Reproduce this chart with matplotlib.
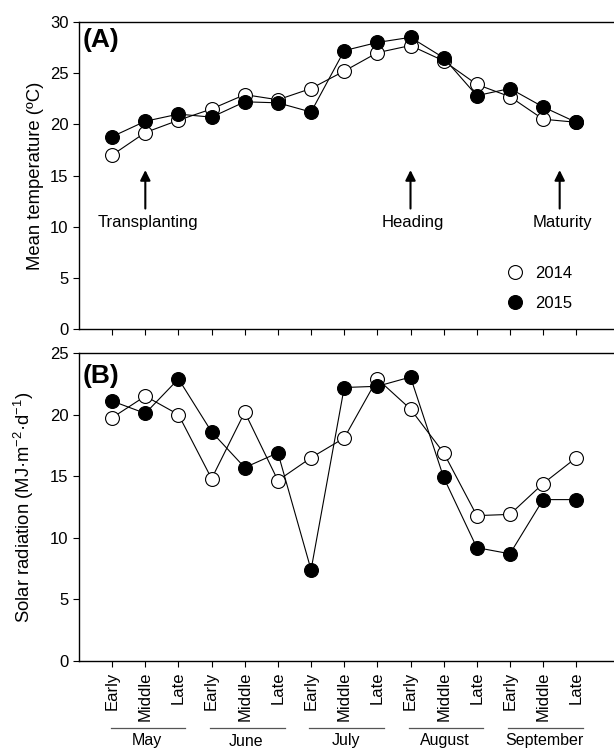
import matplotlib
matplotlib.use('Agg')
import matplotlib.pyplot as plt
from matplotlib.transforms import blended_transform_factory

plt.rcParams['font.family'] = ['Liberation Sans', 'DejaVu Sans']
plt.rcParams['mathtext.default'] = 'regular'

# dati
periods = ['Early', 'Middle', 'Late'] * 5
months = ['May', 'June', 'July', 'August', 'September']
x = list(range(1, 16))

temp_2014 = [17.0, 19.2, 20.4, 21.5, 22.9, 22.4, 23.5, 25.2, 27.0, 27.7, 26.2, 23.9, 22.7, 20.5, 20.2]
temp_2015 = [18.8, 20.3, 21.0, 20.7, 22.2, 22.1, 21.2, 27.2, 28.0, 28.5, 26.5, 22.8, 23.5, 21.7, 20.2]

rad_2014 = [19.75, 21.5, 20.0, 14.8, 20.2, 14.65, 16.5, 18.1, 22.9, 20.45, 16.9, 11.8, 11.9, 14.4, 16.5]
rad_2015 = [21.1, 20.1, 22.9, 18.6, 15.7, 16.9, 7.4, 22.2, 22.3, 23.05, 14.9, 9.2, 8.7, 13.1, 13.1]

stages = ['Transplanting', 'Heading', 'Maturity']
stage_x = [2, 10, 14.5]

fig = plt.figure(figsize=(6.14, 7.5), dpi=100)
ax1 = fig.add_axes([0.1287, 0.5613, 0.88, 0.4094])
ax2 = fig.add_axes([0.1287, 0.1187, 0.88, 0.4106])

ms = 10
for ax, y14, y15 in [(ax1, temp_2014, temp_2015), (ax2, rad_2014, rad_2015)]:
    ax.plot(x, y14, '-o', color='black', lw=0.8, ms=ms, mfc='white', mec='black', mew=0.8, label='2014')
    ax.plot(x, y15, '-o', color='black', lw=0.8, ms=ms, mfc='black', mec='black', mew=0.8, label='2015')
    ax.set_xlim(0, 16.3)
    ax.set_xticks(x)
    ax.spines['right'].set_visible(False)
    ax.tick_params(direction='out', length=4, width=0.8, labelsize=12)
    for s in ax.spines.values():
        s.set_linewidth(1.0)

ax1.set_ylim(0, 30)
ax1.set_yticks(range(0, 31, 5))
ax1.set_xticklabels([])
ax1.set_ylabel('Mean temperature (ºC)', fontsize=13.3, labelpad=4)
ax1.text(0.12, 28.2, '(A)', fontsize=19, fontweight='bold', ha='left', va='center')

for name, sx in zip(stages, stage_x):
    ax1.annotate('', xy=(sx, 15.8), xytext=(sx, 11.5),
                 arrowprops=dict(arrowstyle='-|>', color='black', lw=1.5, mutation_scale=15))
    ax1.text(sx + 0.08, 10.4, name, fontsize=12, ha='center', va='center')

ax1.legend(loc='lower right', bbox_to_anchor=(0.94, 0.01), frameon=False, fontsize=12,
           handletextpad=0.6, labelspacing=0.9, handlelength=1.2)
for h in ax1.get_legend().legend_handles:
    h.set_linestyle('')

ax2.set_ylim(0, 25)
ax2.set_yticks(range(0, 26, 5))
ax2.set_xticklabels(periods, rotation=90, fontsize=12)
ax2.set_ylabel('Solar radiation (MJ·m$^{-2}$·d$^{-1}$)', fontsize=13.3, labelpad=10)
ax2.text(0.12, 23.1, '(B)', fontsize=19, fontweight='bold', ha='left', va='center')

# linee e nomi dei mesi
trans = blended_transform_factory(ax2.transData, fig.transFigure)
for i, m in enumerate(months):
    x0 = 1 + 3 * i
    ax2.plot([x0 - 0.05, x0 + 2.2], [0.029, 0.029], color='#555555', lw=0.9,
             transform=trans, clip_on=False)
    ax2.text(x0 + 1.05, 0.012, m, fontsize=11.5, ha='center', va='center', transform=trans)

fig.savefig('out.png', dpi=100)
